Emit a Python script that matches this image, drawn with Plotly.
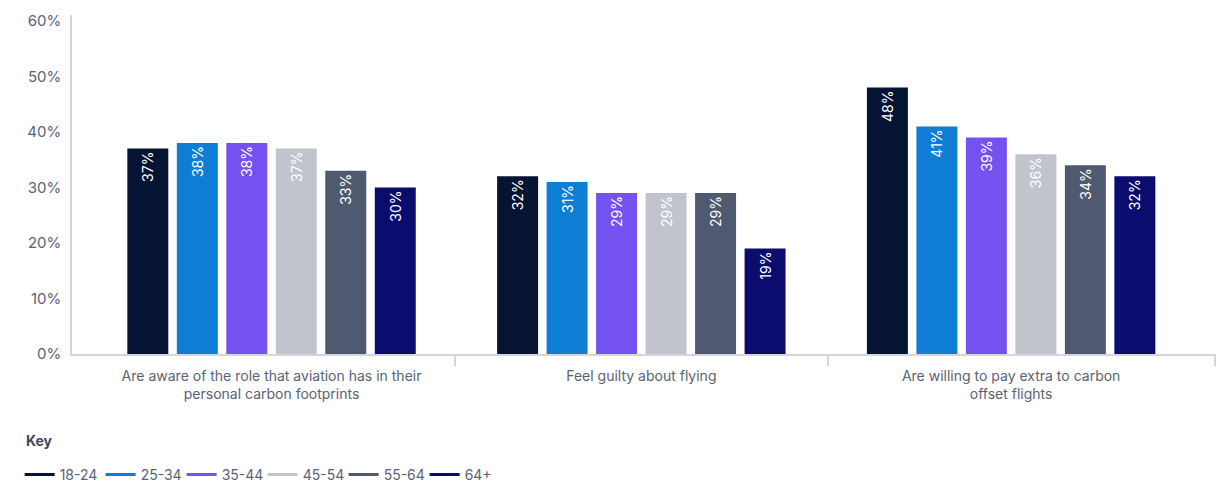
import plotly.graph_objects as go

# Survey statements (x categories) and age bands (series)
statements = [
    "Are aware of the role that aviation has in their<br>personal carbon footprints",
    "Feel guilty about flying",
    "Are willing to pay extra to carbon<br>offset flights",
]
age_groups = ["18-24", "25-34", "35-44", "45-54", "55-64", "64+"]

# Share of respondents (%) per age band, in statement order
values_18_24 = [37, 32, 48]
values_25_34 = [38, 31, 41]
values_35_44 = [38, 29, 39]
values_45_54 = [37, 29, 36]
values_55_64 = [33, 29, 34]
values_64_plus = [30, 19, 32]

series = [values_18_24, values_25_34, values_35_44,
          values_45_54, values_55_64, values_64_plus]
colors = ["#061433", "#0e7ed5", "#7352f0", "#c1c4cc", "#4f5a71", "#0c0c6e"]

y_ticks = [0, 10, 20, 30, 40, 50, 60]

FONT = "Inter, 'Liberation Sans', Arial, sans-serif"
AXIS_GREY = "#d3d6dd"
TEXT_GREY = "#5a6275"

positions = list(range(len(statements)))

fig = go.Figure()

for name, vals, col in zip(age_groups, series, colors):
    fig.add_trace(go.Bar(
        name=name,
        x=positions,
        y=vals,
        marker=dict(color=col, line=dict(width=0)),
        text=[f"{v}%" for v in vals],
        textposition="inside",
        insidetextanchor="end",
        textangle=-90,
        textfont=dict(color="white", size=14, family=FONT),
        showlegend=False,
        hoverinfo="skip",
    ))

# Legend keys drawn as short lines
for name, col in zip(age_groups, colors):
    fig.add_trace(go.Scatter(
        name=name, x=[None], y=[None], mode="lines",
        line=dict(color=col, width=3), showlegend=True,
    ))

# Invisible trace that carries the separator ticks on the overlay axis
fig.add_trace(go.Scatter(x=[None], y=[None], xaxis="x2", showlegend=False))

x_range = [-0.5396, 2.554]

fig.update_layout(
    width=1227, height=483,
    margin=dict(l=72, r=11, t=13, b=129),
    paper_bgcolor="white", plot_bgcolor="white",
    barmode="group", bargap=0.197, bargroupgap=0.172,
    font=dict(family=FONT, color=TEXT_GREY, size=14),
    xaxis=dict(
        range=x_range, tickmode="array", tickvals=positions, ticktext=statements,
        showline=True, linecolor=AXIS_GREY, linewidth=1.5,
        ticks="", showgrid=False, zeroline=False,
        tickfont=dict(size=14, color=TEXT_GREY), ticklabelstandoff=8,
    ),
    xaxis2=dict(
        range=x_range, overlaying="x", tickmode="array",
        tickvals=[0.496, 1.505, 2.552],
        ticks="outside", ticklen=11, tickwidth=1.5, tickcolor=AXIS_GREY,
        showticklabels=False, showgrid=False, zeroline=False, showline=False,
        side="bottom", anchor="y",
    ),
    yaxis=dict(
        range=[0, 61.07], tickmode="array", tickvals=y_ticks,
        ticktext=[f"{v}%" for v in y_ticks],
        showline=True, linecolor=AXIS_GREY, linewidth=1.5,
        showgrid=False, zeroline=False, ticks="",
        tickfont=dict(size=15, color=TEXT_GREY), ticklabelstandoff=6,
    ),
    legend=dict(
        orientation="h", xref="container", yref="container",
        x=0.016, y=1 - 459 / 483, xanchor="left", yanchor="top",
        font=dict(size=14, color=TEXT_GREY, family=FONT),
        itemwidth=30, entrywidth=36, tracegroupgap=0,
    ),
    annotations=[dict(
        text="<b>Key</b>", xref="paper", yref="paper",
        x=-0.042, y=-0.255, xanchor="left", yanchor="middle",
        showarrow=False, font=dict(size=14, color="#3f475a", family=FONT),
    )],
)

fig.write_html("out.html")
